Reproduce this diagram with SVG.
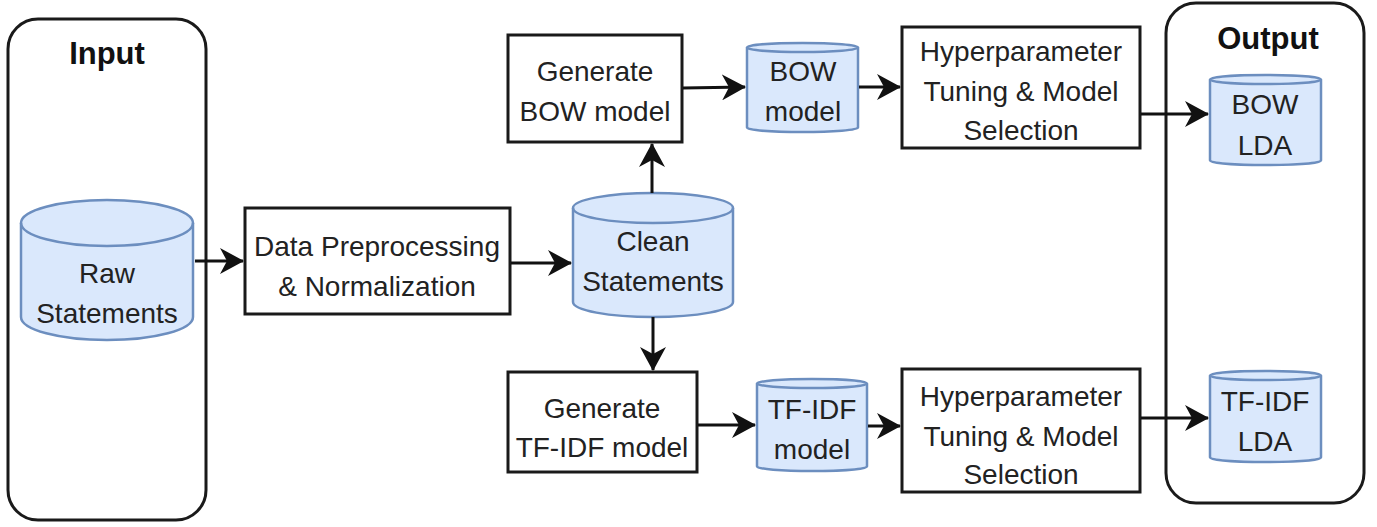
<svg xmlns="http://www.w3.org/2000/svg" width="1377" height="527" viewBox="0 0 1377 527">
<style>
.box{fill:#ffffff;stroke:#1a1a1a;stroke-width:3}
.cont{fill:#ffffff;stroke:#1a1a1a;stroke-width:3}
.cyl{fill:#dae8fc;stroke:#6c8ebf;stroke-width:2.5}
.cyltop{fill:none;stroke:#6c8ebf;stroke-width:2.5}
.t{font-family:"Liberation Sans",Arial,sans-serif;font-size:28px;fill:#222222;text-anchor:middle}
.h{font-family:"Liberation Sans",Arial,sans-serif;font-size:31px;font-weight:bold;fill:#111111;text-anchor:middle}
.edge{fill:none;stroke:#111111;stroke-width:3}
</style>
<defs>
<marker id="arr" markerUnits="userSpaceOnUse" viewBox="0 0 24 26" markerWidth="24" markerHeight="26" refX="23" refY="13" orient="auto">
<path d="M0,0 L24,13 L0,26 L7,13 Z" fill="#111111"/>
</marker>
</defs>

<g id="input">
<rect class="cont" x="8" y="19" width="198" height="501" rx="30"/>
<text class="h" x="107" y="64">Input</text>
</g>

<g id="raw">
<path class="cyl" d="M21,223 A86,23 0 0 1 193,223 L193,317 A86,23 0 0 1 21,317 Z"/>
<path class="cyltop" d="M21,223 A86,23 0 0 0 193,223"/>
<text class="t" x="107" y="283">Raw</text>
<text class="t" x="107" y="323">Statements</text>
</g>

<g id="preprocess">
<rect class="box" x="245" y="208" width="265" height="106"/>
<text class="t" x="377" y="256">Data Preprocessing</text>
<text class="t" x="377" y="296">&amp; Normalization</text>
</g>

<g id="clean">
<path class="cyl" d="M573,208 A80,15 0 0 1 733,208 L733,302 A80,15 0 0 1 573,302 Z"/>
<path class="cyltop" d="M573,208 A80,15 0 0 0 733,208"/>
<text class="t" x="653" y="251">Clean</text>
<text class="t" x="653" y="291">Statements</text>
</g>

<g id="genbow">
<rect class="box" x="508" y="35" width="174" height="107"/>
<text class="t" x="595" y="81">Generate</text>
<text class="t" x="595" y="121">BOW model</text>
</g>

<g id="bowmodel">
<path class="cyl" d="M747,47.5 A55.5,4.5 0 0 1 858,47.5 L858,127.5 A55.5,4.5 0 0 1 747,127.5 Z"/>
<path class="cyltop" d="M747,47.5 A55.5,4.5 0 0 0 858,47.5"/>
<text class="t" x="803" y="81">BOW</text>
<text class="t" x="803" y="121">model</text>
</g>

<g id="hyper1">
<rect class="box" x="902" y="27" width="238" height="121"/>
<text class="t" x="1021" y="61">Hyperparameter</text>
<text class="t" x="1021" y="101">Tuning &amp; Model</text>
<text class="t" x="1021" y="140">Selection</text>
</g>

<g id="output">
<rect class="cont" x="1166" y="3" width="198" height="500" rx="30"/>
<text class="h" x="1268" y="49">Output</text>
</g>

<g id="bowlda">
<path class="cyl" d="M1210,79.5 A55.5,4.5 0 0 1 1321,79.5 L1321,160.5 A55.5,4.5 0 0 1 1210,160.5 Z"/>
<path class="cyltop" d="M1210,79.5 A55.5,4.5 0 0 0 1321,79.5"/>
<text class="t" x="1265" y="114">BOW</text>
<text class="t" x="1265" y="155">LDA</text>
</g>

<g id="gentfidf">
<rect class="box" x="508" y="372" width="189" height="100"/>
<text class="t" x="602" y="418">Generate</text>
<text class="t" x="602" y="457">TF-IDF model</text>
</g>

<g id="tfidfmodel">
<path class="cyl" d="M757,383.5 A55,4.5 0 0 1 867,383.5 L867,466.5 A55,4.5 0 0 1 757,466.5 Z"/>
<path class="cyltop" d="M757,383.5 A55,4.5 0 0 0 867,383.5"/>
<text class="t" x="812" y="419">TF-IDF</text>
<text class="t" x="812" y="459">model</text>
</g>

<g id="hyper2">
<rect class="box" x="902" y="369" width="238" height="123"/>
<text class="t" x="1021" y="406">Hyperparameter</text>
<text class="t" x="1021" y="446">Tuning &amp; Model</text>
<text class="t" x="1021" y="484">Selection</text>
</g>

<g id="tfidflda">
<path class="cyl" d="M1210,375.5 A55.5,4.5 0 0 1 1321,375.5 L1321,457.5 A55.5,4.5 0 0 1 1210,457.5 Z"/>
<path class="cyltop" d="M1210,375.5 A55.5,4.5 0 0 0 1321,375.5"/>
<text class="t" x="1265" y="411">TF-IDF</text>
<text class="t" x="1265" y="451">LDA</text>
</g>

<g id="connectors">
<path class="edge" marker-end="url(#arr)" d="M195,261 L243,261"/>
<path class="edge" marker-end="url(#arr)" d="M511,263 L571,263"/>
<path class="edge" marker-end="url(#arr)" d="M652,193 L652,144"/>
<path class="edge" marker-end="url(#arr)" d="M683,88 L745,87"/>
<path class="edge" marker-end="url(#arr)" d="M859,87 L900,87"/>
<path class="edge" marker-end="url(#arr)" d="M1141,114 L1208,114"/>
<path class="edge" marker-end="url(#arr)" d="M653,317 L653,370"/>
<path class="edge" marker-end="url(#arr)" d="M698,425 L755,425"/>
<path class="edge" marker-end="url(#arr)" d="M868,426 L900,426"/>
<path class="edge" marker-end="url(#arr)" d="M1141,418 L1208,418"/>
</g>
</svg>
